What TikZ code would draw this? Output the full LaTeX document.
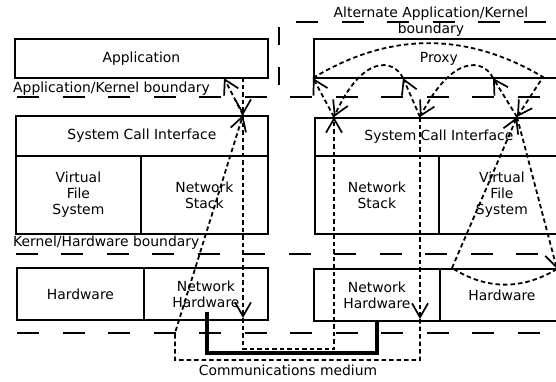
\documentclass[tikz,border=0pt]{standalone}
\usepackage{fontspec}
\setmainfont{DejaVu Sans}
\usetikzlibrary{arrows.meta}
\begin{document}
\begin{tikzpicture}[x=1pt,y=-1pt,
  txt/.style={font=\fontsize{13.9}{16}\selectfont},
  box/.style={draw, line width=1.8pt, inner sep=0pt, anchor=north west, align=center, txt},
  lbl/.style={inner sep=0pt, align=center, txt},
  bnd/.style={line width=1.8pt, dash pattern=on 22pt off 23.5pt},
  flow/.style={line width=1.8pt, dash pattern=on 4.5pt off 3pt},
  tip/.style={-{Straight Barb[length=14pt,width=16pt,line width=1.7pt]}},
  medium/.style={line width=4pt}
]
\useasboundingbox (0,0) rectangle (556,381);
\clip (0,0) rectangle (556,381);

% left host
\node[box, minimum width=253pt, minimum height=39pt] (app) at (14,38) {Application};
\node[box, minimum width=252pt, minimum height=40pt] (sciL) at (15,115) {System Call Interface};
\node[box, minimum width=125pt, minimum height=78pt] (vfsL) at (15,155) {Virtual\\File\\System};
\node[box, minimum width=127pt, minimum height=78pt] (nsL) at (140,155) {Network\\Stack};
\node[box, minimum width=127pt, minimum height=52pt] (hwL) at (16,267) {Hardware};
\node[box, minimum width=124pt, minimum height=52pt] (nhL) at (143,267) {Network\\Hardware};

% right host
\node[box, minimum width=250pt, minimum height=39pt] (proxy) at (313,38) {Proxy};
\node[box, minimum width=248pt, minimum height=38pt] (sciR) at (314,117) {System Call Interface};
\node[box, minimum width=124pt, minimum height=78pt] (nsR) at (314,155) {Network\\Stack};
\node[box, minimum width=126pt, minimum height=78pt] (vfsR) at (438,155) {Virtual\\File\\System};
\node[box, minimum width=126pt, minimum height=52pt] (nhR) at (313,268) {Network\\Hardware};
\node[box, minimum width=124pt, minimum height=52pt] (hwR) at (439,268) {Hardware};

% boundaries
\draw[bnd] (17,97) -- (560,97);
\draw[bnd] (15.5,254) -- (560,254);
\draw[bnd] (17,333) -- (560,333);
\draw[bnd, dash pattern=on 18pt off 22pt] (279,85) -- (279,20);
\draw[bnd] (296,22) -- (560,22);

% labels
\node[lbl, anchor=west] (akb) at (13,89) {Application/Kernel boundary};
\node[lbl, anchor=west] (khb) at (13,243) {Kernel/Hardware boundary};
\node[lbl, font=\fontsize{13.9}{16.5}\selectfont] (aakb) at (431,21.5) {Alternate Application/Kernel\\boundary};
\node[lbl] (cm) at (288,370) {Communications medium};

% junction points
\coordinate (aL) at (243,77);
\coordinate (sL) at (243,115);
\coordinate (nL) at (243,318);
\coordinate (akL) at (224,78);
\coordinate (pA) at (313,78);
\coordinate (pB) at (403,78);
\coordinate (pC) at (493,78);
\coordinate (s1) at (334,117);
\coordinate (s2) at (420,117);
\coordinate (s3) at (517,117);
\coordinate (n2) at (420,319);
\coordinate (arcR) at (543,77);
\coordinate (dk1) at (557,269);
\coordinate (dk2) at (452,268);

% communications medium
\draw[medium] (207,312) |- (377,353) -- (377,0 |- nhR.south);

% flows
\draw[flow,tip] (aL) -- (sL);
\draw[flow,tip] (sL) -- (nL);
\draw[flow,tip] (nL) -- (243,349) -- (334,349) -- (s1);
\draw[flow,tip] (s1) -- (pA);
\draw[flow,tip] (pA) .. controls (389.7,31.7) and (466.3,31.7) .. (arcR) -- (s3);
\draw[flow,tip] (s3) -- (dk1);
\draw[flow] (dk1) .. controls (522,290) and (487,290) .. (dk2);
\draw[flow,tip] (dk2) -- (s3);
\draw[flow,tip] (s3) -- (pC);
\draw[flow,tip] (pC) .. controls (483,58) and (452,55) .. (s2);
\draw[flow,tip] (s2) -- (pB);
\draw[flow,tip] (pB) .. controls (393,58) and (362,55) .. (s1);
\draw[flow,tip] (s2) -- (n2);
\draw[flow,tip] (n2) -- (420,360) -- (175,360) -- (175,333) -- (sL);
\draw[flow,tip] (sL) -- (akL);
\end{tikzpicture}
\end{document}
